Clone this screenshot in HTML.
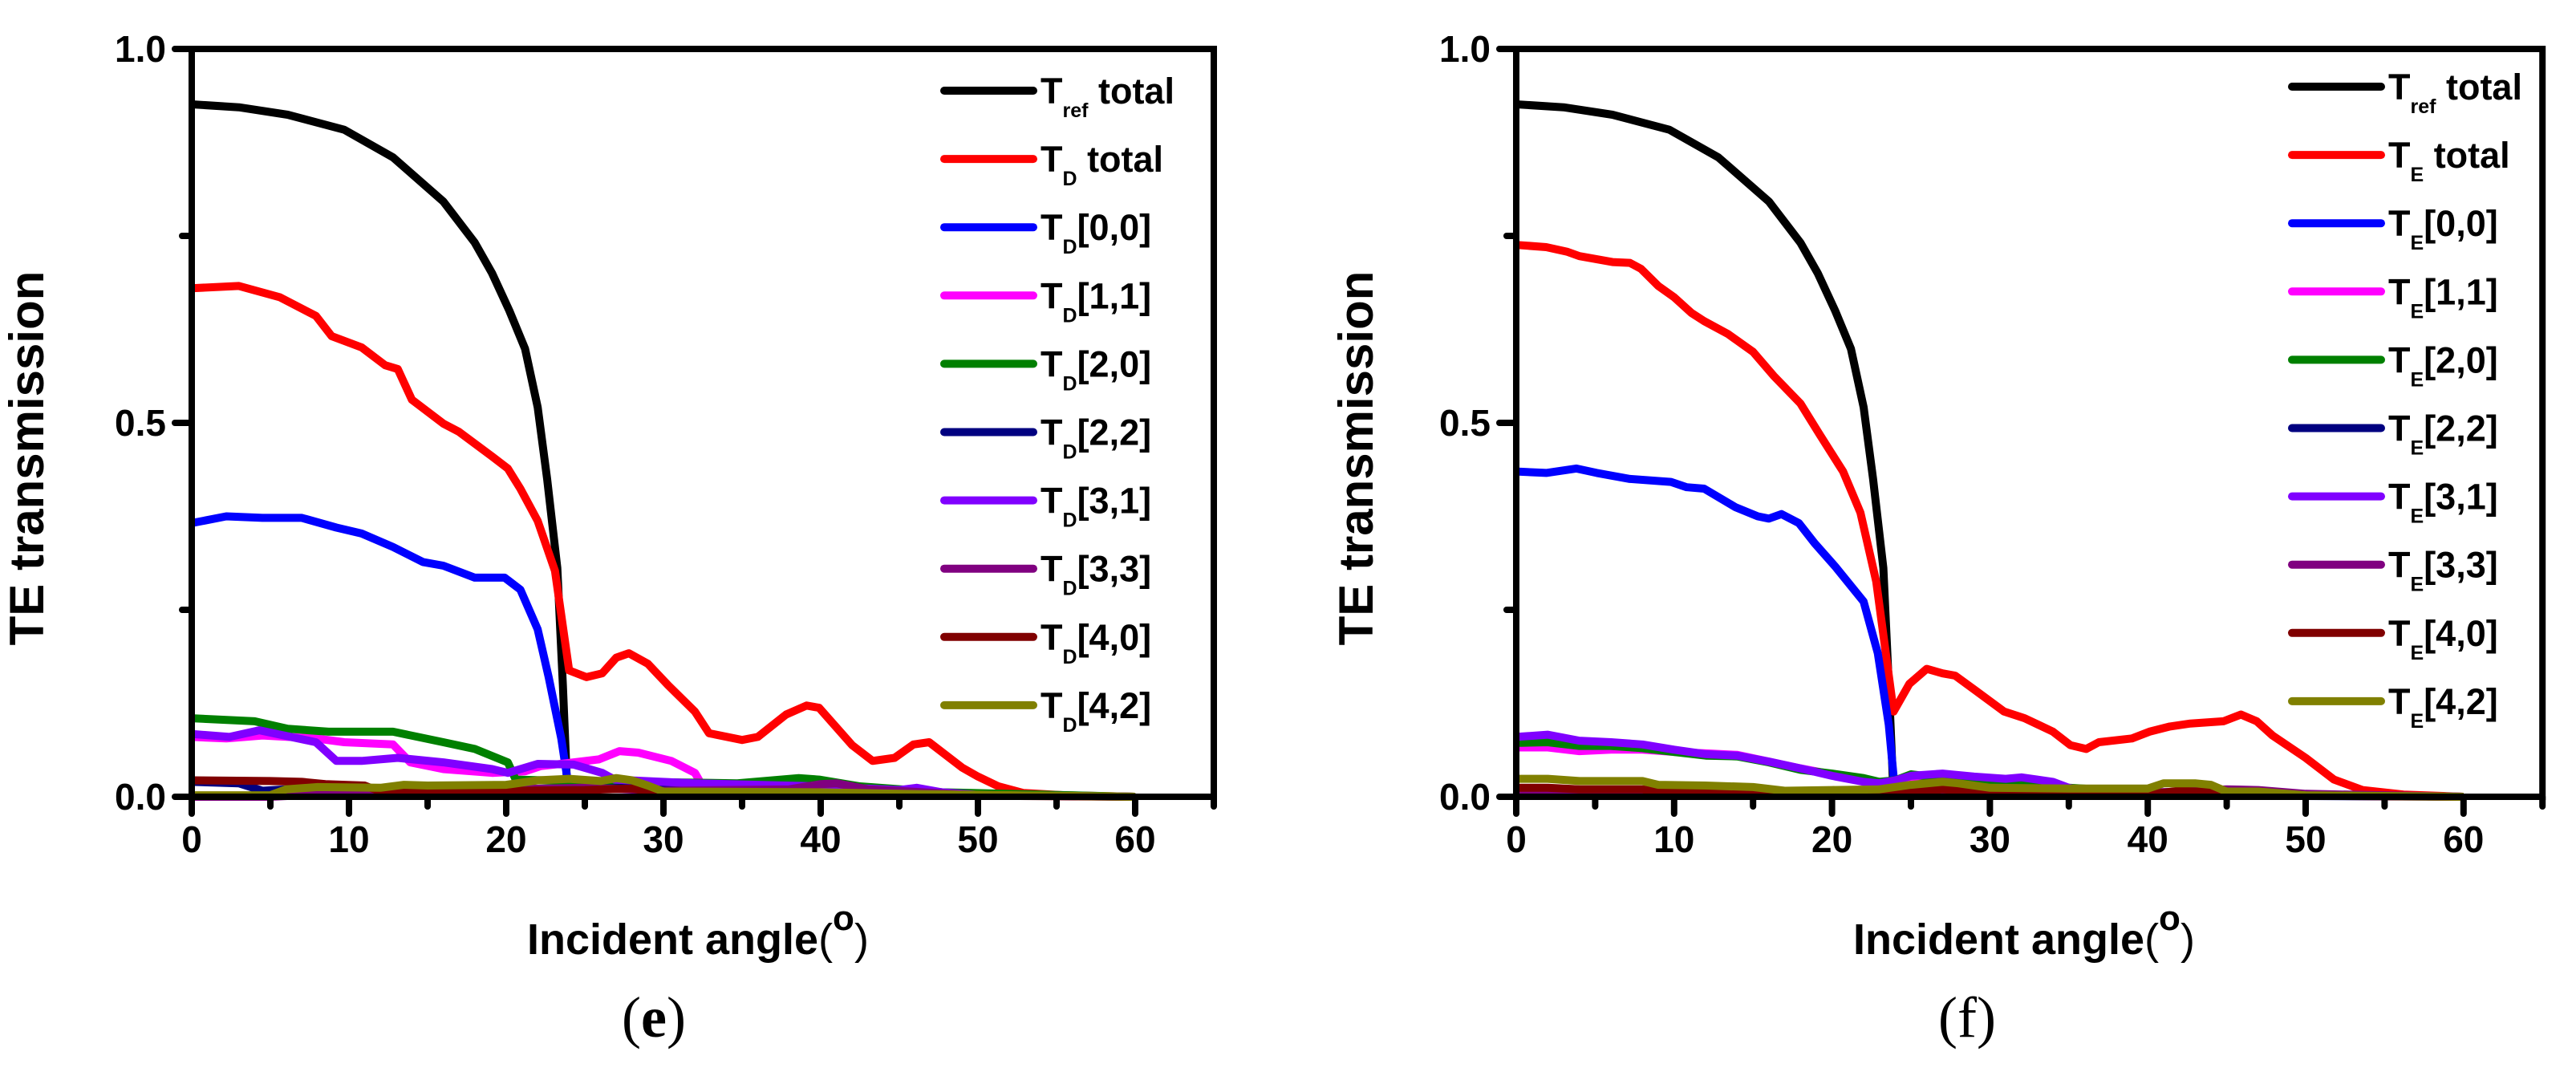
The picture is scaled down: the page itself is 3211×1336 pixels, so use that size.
<!DOCTYPE html>
<html><head><meta charset="utf-8"><style>
html,body{margin:0;padding:0;background:#fff;}
svg{display:block;}
text{font-family:"Liberation Sans",Arial,sans-serif;}
</style></head><body>
<svg id="fig" width="3211" height="1336" viewBox="0 0 3211 1336" xmlns="http://www.w3.org/2000/svg">
<g id="panelE"></g>
<g id="panelF"></g>
</svg>
<script>
// ---- data (angle, transmission) ----
const xTicks=[0,10,20,30,40,50,60];
const xMinorTicks=[5,15,25,35,45,55,65];
const yTicks=[0,0.5,1.0];
const yTickLabels=["0.0","0.5","1.0"];
const yMinorTicks=[0.25,0.75];
const refTotal=[[0,.926],[3,.922],[6.1,.912],[9.7,.892],[12.8,.855],[16,.796],[18,.741],[19.1,.7],[20.2,.65],[21.2,.599],[22,.521],[22.6,.425],[23.25,.306],[23.6,.15],[23.9,0]];
const dTotal=[[0,.68],[3,.683],[5.6,.668],[7.9,.643],[8.9,.616],[10.8,.601],[12.3,.577],[13.1,.572],[14,.531],[16,.499],[17,.488],[19.1,.455],[20.1,.439],[20.9,.412],[22,.369],[23.1,.302],[24,.169],[25.1,.16],[26.1,.165],[27,.186],[27.8,.192],[29,.178],[30.3,.149],[32,.114],[32.9,.085],[35,.076],[36,.08],[37.8,.11],[39.1,.122],[39.9,.119],[42,.069],[43.3,.048],[44.7,.052],[45.9,.07],[46.9,.073],[49,.039],[50,.027],[51.3,.014],[52.9,.005],[55.5,.002],[60,0]];
const d00=[[0,.366],[2.2,.375],[4.5,.373],[7,.373],[9.2,.36],[10.8,.352],[12.8,.334],[14.7,.314],[16,.309],[18,.293],[19.9,.293],[20.9,.277],[22,.224],[22.7,.16],[23.5,.078],[23.9,.023],[24,.02]];
const d11=[[0,.08],[2.2,.078],[4.5,.082],[7.9,.078],[9.7,.073],[12.8,.07],[13.9,.046],[16,.037],[19.1,.032],[21.2,.034],[22.2,.041],[24.3,.046],[25.9,.05],[27.2,.061],[28.4,.059],[30.5,.048],[32,.032],[32.5,.014]];
const d20=[[0,.105],[4,.101],[6.1,.091],[8.7,.087],[12.8,.087],[16,.073],[18,.064],[20.1,.046],[20.6,.023],[24.3,.021],[34.7,.018],[38.6,.025],[39.9,.023],[42.5,.014],[47.7,.006],[60,0]];
const d22=[[0,.02],[3,.018],[4.5,.008],[6,.01],[10,.006],[20,.005],[24,.01],[28,.012],[30,.01],[40,.005],[60,0]];
const d31=[[0,.084],[2.4,.08],[4.3,.089],[7.9,.073],[9.2,.048],[10.8,.048],[13.1,.052],[16,.046],[19.1,.037],[20.1,.032],[22,.044],[24.3,.043],[26.1,.032],[26.9,.023],[32,.018],[39.9,.014],[45,.009],[46.1,.012],[47.7,.006],[50.3,.002],[60,0]];
const d33=[[0,0],[5,0],[8,.003],[15,.008],[20,.01],[25,.012],[30,.008],[38,.01],[40,.017],[41,.018],[43,.01],[50,.002],[60,0]];
const d40=[[0,.022],[5,.021],[7,.02],[8.5,.017],[11,.015],[12,.007],[15,.006],[20,.008],[25,.009],[28,.011],[30,.004],[40,.003],[60,0]];
const d42=[[0,.002],[5,.002],[6,.01],[8,.013],[12,.012],[13.5,.016],[15,.015],[20,.016],[22,.022],[24,.024],[26,.021],[27,.025],[28,.022],[29,.015],[30,.007],[40,.006],[45,.004],[60,0]];
const eTotal=[[0,.738],[1.9,.735],[3.2,.729],[4,.723],[6.1,.715],[7.2,.714],[7.9,.706],[9,.683],[10,.668],[11.1,.647],[11.9,.636],[13.4,.619],[15,.595],[16.3,.563],[18,.526],[19.2,.485],[20.7,.435],[21.8,.38],[22.8,.288],[23.9,.114],[24.9,.151],[26,.171],[27,.165],[27.8,.162],[29.1,.142],[30.9,.114],[32.2,.105],[34,.087],[35.1,.069],[36.1,.064],[36.9,.073],[39,.078],[40.1,.087],[41.4,.094],[42.7,.098],[44.8,.101],[45.9,.11],[46.9,.101],[47.9,.082],[50,.052],[51.8,.023],[53.6,.009],[56.2,.003],[60,0]];
const e00=[[0,.435],[1.9,.433],[3.8,.439],[5.1,.433],[7.2,.425],[9.8,.421],[10.8,.414],[11.9,.412],[13.9,.387],[15.3,.375],[16,.372],[16.8,.378],[17.9,.366],[18.9,.339],[20.2,.308],[22,.261],[22.9,.192],[23.6,.096],[23.9,.027]];
const e11=[[0,.066],[2,.066],[4,.061],[6,.063],[8,.063],[10,.06],[12,.058],[14,.056],[16,.047],[18,.038],[20,.03],[22,.022],[23,.015],[24,.02],[26,.024],[28,.02],[30,.015],[35,.01],[40,.005],[50,.002],[60,0]];
const e20=[[0,.072],[2,.073],[4,.068],[6,.068],[8,.065],[10,.06],[12,.055],[14,.054],[16,.046],[18,.036],[20,.031],[22,.025],[23,.02],[24,.022],[25,.03],[27,.025],[30,.018],[35,.012],[40,.006],[45,.004],[50,.002],[60,0]];
const e22=[[0,.002],[20,.002],[40,.002],[60,0]];
const e31=[[0,.08],[2,.083],[4,.075],[6,.073],[8,.07],[10,.063],[12,.057],[14,.055],[16,.047],[18,.038],[20,.028],[22,.02],[23,.018],[24,.022],[25,.028],[27,.031],[29,.027],[31,.024],[32,.026],[34,.02],[35,.012],[36,.008],[40,.006],[45,.007],[50,.003],[60,0]];
const e33=[[0,.004],[10,.005],[20,.004],[30,.004],[40,.005],[45,.01],[47,.009],[50,.004],[60,0]];
const e40=[[0,.012],[2,.012],[4,.01],[8,.01],[9,.006],[15,.005],[20,.003],[25,.006],[27,.01],[29,.008],[30,.004],[40,.003],[42,.008],[44,.006],[45,.002],[60,0]];
const e42=[[0,.024],[2,.024],[4,.021],[6,.021],[8,.021],[9,.016],[12,.015],[15,.013],[17,.008],[20,.009],[23,.01],[25,.016],[27,.02],[28,.018],[30,.012],[35,.011],[40,.011],[41,.018],[43,.018],[44,.016],[45,.007],[47,.007],[50,.002],[60,0]];
const seriesColors=["#000000","#ff0000","#0000ff","#ff00ff","#008000","#000080","#8000ff","#800080","#800000","#808000"];
const legendSubsE=["ref","D","D","D","D","D","D","D","D","D"];
const legendSubsF=["ref","E","E","E","E","E","E","E","E","E"];
const legendTails=[" total"," total","[0,0]","[1,1]","[2,0]","[2,2]","[3,1]","[3,3]","[4,0]","[4,2]"];
const seriesNames=["ref-total","total","00","11","20","22","31","33","40","42"];

const NS="http://www.w3.org/2000/svg";
function mk(tag,attrs,parent){const e=document.createElementNS(NS,tag);for(const k in attrs)e.setAttribute(k,attrs[k]);parent.appendChild(e);return e;}
const yTop=61,yBot=993;
function yS(v){return yBot-(yBot-yTop)*v;}

function drawPanel(g,x0,unit,series,subs,legX,legY,ytX,xtX,tag,capX,capBold){
  const xS=a=>x0+unit*a;
  const xEnd=xS(65);
  // series
  series.forEach((s,i)=>{
    const p=mk('polyline',{points:s.map(d=>xS(d[0]).toFixed(1)+','+yS(d[1]).toFixed(1)).join(' '),fill:'none',stroke:seriesColors[i],'stroke-width':10,'stroke-linejoin':'round','stroke-linecap':'butt'},g);
    
    
  });
  // frame
  const fr=mk('rect',{x:x0,y:yTop,width:xEnd-x0,height:yBot-yTop,fill:'none',stroke:'#000','stroke-width':8},g);
  
  
  // y ticks
  yTicks.forEach((v,i)=>{
    const t=mk('line',{x1:x0-21,x2:x0,y1:yS(v),y2:yS(v),stroke:'#000','stroke-width':8,'stroke-linecap':'round'},g);
    
    
    const l=mk('text',{x:x0-32,y:yS(v)+16,'font-size':46,'font-weight':'bold','text-anchor':'end'},g);
    l.textContent=yTickLabels[i];
    
    
  });
  yMinorTicks.forEach(v=>{
    const t=mk('line',{x1:x0-12,x2:x0,y1:yS(v),y2:yS(v),stroke:'#000','stroke-width':8,'stroke-linecap':'round'},g);
    
    
  });
  xTicks.forEach(a=>{
    const t=mk('line',{x1:xS(a),x2:xS(a),y1:yBot,y2:yBot+21,stroke:'#000','stroke-width':8,'stroke-linecap':'round'},g);
    
    
    const l=mk('text',{x:xS(a),y:1062,'font-size':46,'font-weight':'bold','text-anchor':'middle'},g);
    l.textContent=String(a);
    
    
  });
  xMinorTicks.forEach(a=>{
    const t=mk('line',{x1:xS(a),x2:xS(a),y1:yBot,y2:yBot+12,stroke:'#000','stroke-width':8,'stroke-linecap':'round'},g);
    
    
  });
  // legend
  series.forEach((s,i)=>{
    const y=legY+85.1*i;
    const ln=mk('line',{x1:legX,x2:legX+111,y1:y,y2:y,stroke:seriesColors[i],'stroke-width':10,'stroke-linecap':'round'},g);
    
    
    const t=mk('text',{x:legX+120,y:y+16,'font-size':45,'font-weight':'bold'},g);
    
    
    const a=mk('tspan',{},t);a.textContent='T';
    const b=mk('tspan',{'font-size':25,dy:17},t);b.textContent=subs[i];
    const c=mk('tspan',{dy:-17},t);c.textContent=legendTails[i];
  });
  // y title
  const yt=mk('text',{x:0,y:0,'font-size':60,'font-weight':'bold','text-anchor':'middle',transform:'translate('+(ytX+21)+',571) rotate(-90)'},g);
  yt.textContent='TE transmission';
  
  
  // x title
  const xt=mk('text',{x:xtX,y:1189,'font-size':54,'font-weight':'bold'},g);
  
  
  const p1=mk('tspan',{},xt);p1.textContent='Incident angle';
  const p2=mk('tspan',{'font-weight':'normal'},xt);p2.textContent='(';
  const p3=mk('tspan',{'font-size':44,dy:-30},xt);p3.textContent='o';
  const p4=mk('tspan',{'font-weight':'normal',dy:30},xt);p4.textContent=')';
  // caption
  const cp=mk('text',{x:capX,y:1292,'font-size':72,'text-anchor':'middle',style:'font-family:"Liberation Serif",serif'},g);
  
  
  const c1=mk('tspan',{},cp);c1.textContent='(';
  const c2=mk('tspan',{'font-weight':capBold?'bold':'normal'},cp);c2.textContent=tag;
  const c3=mk('tspan',{},cp);c3.textContent=')';
}
drawPanel(document.getElementById('panelE'),239,19.6,[refTotal,dTotal,d00,d11,d20,d22,d31,d33,d40,d42],legendSubsE,1177,113,33,657,'e',815,true);
drawPanel(document.getElementById('panelF'),1890,19.68,[refTotal,eTotal,e00,e11,e20,e22,e31,e33,e40,e42],legendSubsF,2857,108,1690,2310,'f',2452,false);
</script>
</body></html>
